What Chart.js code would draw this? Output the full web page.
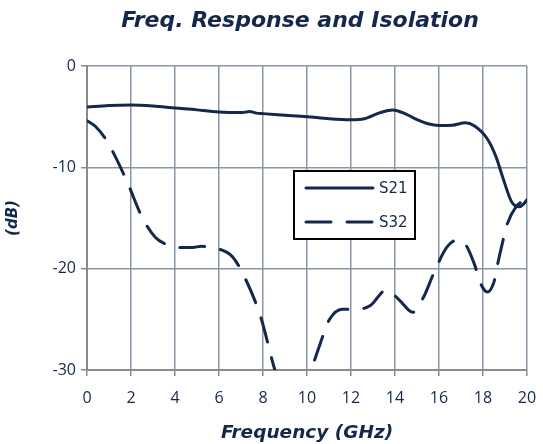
<!DOCTYPE html>
<html>
<head>
<meta charset="utf-8">
<script src="https://cdn.jsdelivr.net/npm/chart.js@4.4.1/dist/chart.umd.min.js"></script>
<style>
  html, body { margin: 0; padding: 0; background: #fff; }
  #wrap { width: 543px; height: 444px; }
</style>
</head>
<body>
<div id="wrap"><canvas id="c" width="543" height="444"></canvas></div>
<script>
// S21 - freq response
var s21Freq = [0, 1, 2, 3, 4, 5, 5.5, 6, 7, 7.4, 7.7, 8, 9, 10, 11, 12, 12.6, 13.3, 13.9, 14.5, 15, 15.5, 16, 16.6, 17.2, 17.6, 18.2, 18.6, 18.9, 19.3, 19.65, 19.85, 20];
var s21Db   = [-4.05, -3.9, -3.85, -3.95, -4.15, -4.33, -4.45, -4.55, -4.6, -4.5, -4.65, -4.7, -4.85, -5.0, -5.2, -5.3, -5.2, -4.62, -4.33, -4.75, -5.3, -5.7, -5.87, -5.85, -5.6, -5.9, -7.2, -9.0, -11.0, -13.4, -13.9, -13.6, -13.2];

// S32 - isolation
var s32Freq = [0, 0.4, 0.9, 1.8, 2.5, 3.1, 3.6, 4.1, 4.8, 5.2, 5.9, 6.6, 7.2, 7.9, 8.5, 9.0, 9.4, 9.8, 10.2, 10.6, 11.0, 11.6, 12.3, 12.9, 13.6, 14.2, 14.8, 15.3, 15.75, 16.35, 16.8, 17.2, 17.6, 17.9, 18.2, 18.5, 18.7, 18.9, 19.1, 19.5, 20];
var s32Db   = [-5.4, -6.0, -7.4, -11.3, -14.9, -16.9, -17.6, -17.9, -17.9, -17.8, -18.0, -18.8, -21.0, -24.8, -29.7, -33, -34.5, -33, -30, -27.4, -25.1, -24.0, -24.0, -23.6, -22.1, -23.1, -24.3, -22.8, -20.5, -17.9, -17.2, -17.6, -19.5, -21.5, -22.3, -21.3, -19.2, -17.3, -15.6, -13.9, -13.1];

var xTicks = [0, 2, 4, 6, 8, 10, 12, 14, 16, 18, 20];
var yTicks = [-30, -20, -10, 0];

var navy = '#14284b';

function pts(xs, ys) {
  return xs.map(function (x, i) { return { x: x, y: ys[i] }; });
}

// title sits over the plot, not the whole canvas
var shiftTitle = {
  id: 'shiftTitle',
  afterLayout: function (chart) {
    if (chart.titleBlock) {
      chart.titleBlock.left = 73;
      chart.titleBlock.right = 527;
    }
  }
};

// legend drawn inside plot area
var boxLegend = {
  id: 'boxLegend',
  afterDraw: function (chart) {
    var ctx = chart.ctx;
    var a = chart.chartArea;
    var x0 = a.left + 207, y0 = a.top + 105, w = 121, h = 68;
    ctx.save();
    ctx.fillStyle = '#fff';
    ctx.fillRect(x0, y0, w, h);
    ctx.strokeStyle = '#000';
    ctx.lineWidth = 2;
    ctx.strokeRect(x0, y0, w, h);
    chart.data.datasets.forEach(function (ds, i) {
      var ly = y0 + 17 + i * 34;
      ctx.strokeStyle = ds.borderColor;
      ctx.lineWidth = ds.borderWidth;
      ctx.lineCap = 'round';
      ctx.setLineDash(ds.borderDash || []);
      ctx.beginPath();
      ctx.moveTo(x0 + 12, ly);
      ctx.lineTo(x0 + 79, ly);
      ctx.stroke();
      ctx.setLineDash([]);
      ctx.fillStyle = navy;
      ctx.font = '15px "DejaVu Sans"';
      ctx.textBaseline = 'middle';
      ctx.fillText(ds.label, x0 + 85, ly + 1);
    });
    ctx.restore();
  }
};

new Chart(document.getElementById('c'), {
  type: 'line',
  data: {
    datasets: [
      {
        label: 'S21',
        data: pts(s21Freq, s21Db),
        borderColor: navy,
        borderWidth: 3,
        pointRadius: 0,
        cubicInterpolationMode: 'monotone',
        borderCapStyle: 'round',
        fill: false
      },
      {
        label: 'S32',
        data: pts(s32Freq, s32Db),
        borderColor: navy,
        borderWidth: 3,
        borderDash: [25, 16],
        pointRadius: 0,
        cubicInterpolationMode: 'monotone',
        borderCapStyle: 'round',
        fill: false
      }
    ]
  },
  options: {
    responsive: false,
    animation: false,
    layout: { padding: { left: 0, right: 16, top: 0, bottom: 0 } },
    plugins: {
      legend: { display: false },
      tooltip: { enabled: false },
      title: {
        display: true,
        text: 'Freq. Response and Isolation',
        color: navy,
        font: { family: 'DejaVu Sans', size: 22, weight: 'bold', style: 'italic' },
        padding: { top: 8, bottom: 31.6 }
      }
    },
    scales: {
      x: {
        type: 'linear',
        min: 0, max: 20,
        afterBuildTicks: function (s) { s.ticks = xTicks.map(function (v) { return { value: v }; }); },
        afterFit: function (s) { s.height = 74; s.paddingRight = 0; s.paddingLeft = 0; },
        grid: { color: '#8a95a6', lineWidth: 1.5, tickLength: 6, tickColor: '#8a8a8a' },
        border: { color: '#8a8a8a', width: 2 },
        ticks: { color: navy, font: { family: 'Open Sans', size: 16 }, padding: 13 },
        title: {
          display: true,
          text: 'Frequency (GHz)',
          color: navy,
          font: { family: 'DejaVu Sans', size: 18.5, weight: 'bold', style: 'italic' },
          padding: { top: 4, bottom: 0 }
        }
      },
      y: {
        min: -30, max: 0,
        afterBuildTicks: function (s) { s.ticks = yTicks.map(function (v) { return { value: v }; }); },
        afterFit: function (s) { s.width = 87; },
        grid: { color: '#8a95a6', lineWidth: 1.5, tickLength: 6, tickColor: '#8a8a8a' },
        border: { color: '#8a8a8a', width: 2 },
        ticks: { color: navy, font: { family: 'Open Sans', size: 16 }, padding: 5 },
        title: {
          display: true,
          text: '(dB)',
          color: navy,
          font: { family: 'DejaVu Sans', size: 15, weight: 'bold', style: 'italic' },
          padding: { bottom: 20 }
        }
      }
    }
  },
  plugins: [shiftTitle, boxLegend]
});
</script>
</body>
</html>
